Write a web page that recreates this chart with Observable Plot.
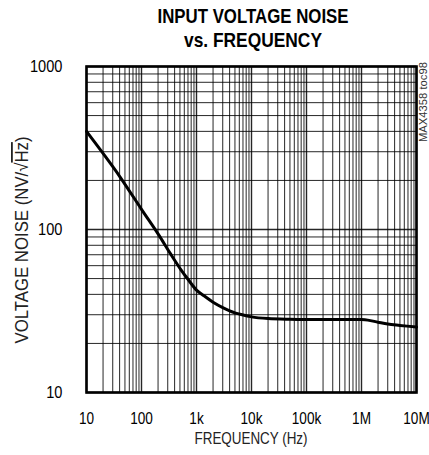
<!DOCTYPE html>
<html>
<head>
<meta charset="utf-8">
<script src="https://cdn.jsdelivr.net/npm/d3@7"></script>
<script src="https://cdn.jsdelivr.net/npm/@observablehq/plot@0.6"></script>
<style>
  html, body { margin: 0; padding: 0; background: #fff; }
  #chart { width: 429px; height: 455px; }
</style>
</head>
<body>
<div id="chart"></div>
<script>
// ---- data ----
const freqHz = [10, 20, 40, 100, 200, 340, 515, 700, 1000, 1370, 2000, 3000, 5000, 8500, 10000, 20000, 50000, 100000, 300000, 1000000, 1300000, 2000000, 3000000, 5000000, 10000000];
const noiseNV = [400, 293, 212, 133, 94, 70.6, 57, 49.5, 42.5, 39.2, 35.8, 33.2, 30.8, 29.5, 29.1, 28.4, 28.1, 28, 28, 28, 27.8, 27, 26.3, 25.8, 25.2];
const xTickValues = [10, 100, 1000, 10000, 100000, 1000000, 10000000];
const xTickLabels = ["10", "100", "1k", "10k", "100k", "1M", "10M"];
const yTickValues = [10, 100, 1000];
const yTickLabels = ["10", "100", "1000"];
const titleLines = ["INPUT VOLTAGE NOISE", "vs. FREQUENCY"];
const xLabel = "FREQUENCY (Hz)";
const yLabelParts = ["VOLTAGE NOISE (NV/√", "Hz", ")"];
const sideNote = "MAX4358 toc98";

const xDomain = [10, 1e7];
const yDomain = [10, 1000];
const data = freqHz.map((f, i) => ({f, v: noiseNV[i]}));
const xGrid = d3.scaleLog().domain(xDomain).ticks();
const yGrid = d3.scaleLog().domain(yDomain).ticks();

const font = "'Liberation Sans Narrow', 'Arial Narrow', 'Liberation Sans', Arial, sans-serif";

const plot = Plot.plot({
  width: 429,
  height: 455,
  marginLeft: 86,
  marginRight: 13,
  marginTop: 66,
  marginBottom: 63,
  style: {fontFamily: font, fontSize: "17px", color: "#000", background: "#fff", overflow: "visible"},
  x: {type: "log", domain: xDomain},
  y: {type: "log", domain: yDomain},
  marks: [
    Plot.ruleX(xGrid, {stroke: "#000", strokeWidth: d => xTickValues.includes(d) ? 1.4 : 1, strokeOpacity: 0.85}),
    Plot.ruleY(yGrid, {stroke: "#000", strokeWidth: d => yTickValues.includes(d) ? 1.4 : 1, strokeOpacity: 0.85}),
    Plot.frame({stroke: "#000", strokeWidth: 2.6}),
    Plot.line(data, {x: "f", y: "v", stroke: "#000", strokeWidth: 3, curve: "catmull-rom"}),
    Plot.axisX(xTickValues, {tickSize: 0, tickPadding: 19, label: null,
      tickFormat: d => xTickLabels[xTickValues.indexOf(d)], fontSize: 17}),
    Plot.axisY(yTickValues, {tickSize: 0, tickPadding: 24, label: null,
      tickFormat: d => yTickLabels[yTickValues.indexOf(d)], fontSize: 17})
  ]
});

const svg = d3.select(plot);
// condense tick labels (no condensed face installed)
svg.selectAll('g[aria-label="x-axis tick label"] text').each(function() {
  const t = this.getAttribute("transform") || "";
  this.setAttribute("transform", t + " scale(0.8,1)");
});
svg.selectAll('g[aria-label="y-axis tick label"] text').each(function() {
  const t = this.getAttribute("transform") || "";
  this.setAttribute("transform", t + " scale(0.86,1)");
});
// title
svg.append("text").attr("x", 253).attr("y", 23).attr("text-anchor", "middle")
  .attr("font-family", font).attr("font-weight", "bold").attr("font-size", 21)
  .attr("textLength", 191).attr("lengthAdjust", "spacingAndGlyphs")
  .text(titleLines[0]);
svg.append("text").attr("x", 253).attr("y", 47).attr("text-anchor", "middle")
  .attr("font-family", font).attr("font-weight", "bold").attr("font-size", 21)
  .attr("textLength", 138).attr("lengthAdjust", "spacingAndGlyphs")
  .text(titleLines[1]);
// x label
svg.append("text").attr("x", 251).attr("y", 444).attr("text-anchor", "middle")
  .attr("font-family", font).attr("font-size", 17).attr("fill", "#222")
  .attr("textLength", 113).attr("lengthAdjust", "spacingAndGlyphs")
  .text(xLabel);
// y label
const yl = svg.append("text").attr("transform", "translate(28,240) rotate(-90)")
  .attr("text-anchor", "middle").attr("font-family", font).attr("font-size", 18).attr("fill", "#222")
  .attr("textLength", 207).attr("lengthAdjust", "spacingAndGlyphs");
yl.append("tspan").text(yLabelParts[0]);
yl.append("tspan").style("text-decoration", "overline").text(yLabelParts[1]);
yl.append("tspan").text(yLabelParts[2]);
// side note
svg.append("text").attr("transform", "translate(427,62) rotate(-90)")
  .attr("text-anchor", "end").attr("font-family", font).attr("font-size", 11).attr("fill", "#333")
  .attr("textLength", 80).attr("lengthAdjust", "spacingAndGlyphs")
  .text(sideNote);

document.getElementById("chart").appendChild(plot);
</script>
</body>
</html>
